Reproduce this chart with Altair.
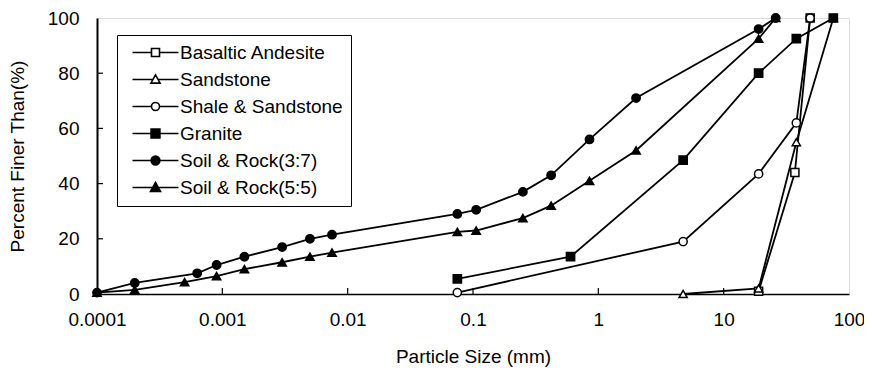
import altair as alt
import pandas as pd

# ---- data ----
series_names = ["Basaltic Andesite", "Sandstone", "Shale & Sandstone",
                "Granite", "Soil & Rock(3:7)", "Soil & Rock(5:5)"]

basaltic_x = [19, 37, 49]
basaltic_y = [1, 44, 100]

sandstone_x = [4.75, 19, 38, 75]
sandstone_y = [0, 2, 55, 100]

shale_x = [0.075, 4.75, 19, 38, 49]
shale_y = [0.5, 19, 43.5, 62, 100]

granite_x = [0.075, 0.6, 4.75, 19, 38, 75]
granite_y = [5.5, 13.5, 48.5, 80, 92.5, 100]

soil37_x = [0.0001, 0.0002, 0.00063, 0.0009, 0.0015, 0.003, 0.005, 0.0075,
            0.075, 0.106, 0.25, 0.42, 0.85, 2.0, 19, 26]
soil37_y = [0.5, 4, 7.5, 10.5, 13.5, 17, 20, 21.5,
            29, 30.5, 37, 43, 56, 71, 96, 100]

soil55_x = [0.0001, 0.0002, 0.0005, 0.0009, 0.0015, 0.003, 0.005, 0.0075,
            0.075, 0.106, 0.25, 0.42, 0.85, 2.0, 19, 26]
soil55_y = [0.5, 1.5, 4.3, 6.5, 9, 11.5, 13.5, 15,
            22.5, 23, 27.5, 32, 41, 52, 92.5, 100]

x_tick_values = [0.0001, 0.001, 0.01, 0.1, 1, 10, 100]
y_tick_values = [0, 20, 40, 60, 80, 100]
inner_x_ticks = [0.001, 0.01, 0.1, 1, 10]
inner_y_ticks = [20, 40, 60, 80]

# ---- build table ----
xs = [basaltic_x, sandstone_x, shale_x, granite_x, soil37_x, soil55_x]
ys = [basaltic_y, sandstone_y, shale_y, granite_y, soil37_y, soil55_y]
rows = []
for name, sx, sy in zip(series_names, xs, ys):
    for a, b in zip(sx, sy):
        rows.append({"series": name, "size": a, "pct": b})
df = pd.DataFrame(rows)

W, H = 752, 276
FONT = "Liberation Sans"

plot_shapes = ["square", "triangle-up", "circle", "square", "circle", "triangle-up"]
plot_fills = ["white", "white", "white", "black", "black", "black"]
plot_strokes = ["black"] * 6
plot_sizes = [65, 70, 65, 100, 95, 105]

legend_paths = [
    "M-5.75,0H-1M1,0H5.75M-1,-1H1V1H-1Z",
    "M-5.75,0H-0.6M0.6,0H5.75M0,-1.15L1.15,0.9H-1.15Z",
    "M-5.75,0H-1M1,0H5.75M1,0A1,1,0,1,1,-1,0A1,1,0,1,1,1,0Z",
    "M-5.75,0H-1.1M1.1,0H5.75M-1.1,-1.1H1.1V1.1H-1.1Z",
    "M-5.75,0H-1.1M1.1,0H5.75M1.1,0A1.1,1.1,0,1,1,-1.1,0A1.1,1.1,0,1,1,1.1,0Z",
    "M-5.75,0H-0.6M0.6,0H5.75M0,-1.25L1.25,1H-1.25Z",
]

xscale = alt.Scale(type="log", domain=[0.0001, 100], nice=False)
yscale = alt.Scale(domain=[0, 100], nice=False)

xenc = alt.X("size:Q", scale=xscale,
             axis=alt.Axis(values=x_tick_values, format="~g", title="Particle Size (mm)",
                           tickSize=0, labelPadding=16, titlePadding=18, grid=False,
                           domainColor="black", domainWidth=1.5,
                           labelFont=FONT, labelFontSize=19, labelColor="black",
                           titleFont=FONT, titleFontSize=19, titleFontWeight="normal",
                           titleColor="black", labelFlush=False))
yenc = alt.Y("pct:Q", scale=yscale,
             axis=alt.Axis(values=y_tick_values, title="Percent Finer Than(%)",
                           tickSize=0, labelPadding=18, titlePadding=20, grid=False,
                           domainColor="black", domainWidth=2,
                           labelFont=FONT, labelFontSize=19, labelColor="black",
                           titleFont=FONT, titleFontSize=19, titleFontWeight="normal",
                           titleColor="black", labelFlush=False))

lines = alt.Chart(df).mark_line(color="black", strokeWidth=1.8).encode(
    x=xenc, y=yenc, detail="series:N")

points = alt.Chart(df).mark_point(filled=True, stroke="black", strokeWidth=1.5, opacity=1).encode(
    x="size:Q", y="pct:Q",
    shape=alt.Shape("series:N", scale=alt.Scale(domain=series_names, range=plot_shapes), legend=None),
    fill=alt.Fill("series:N", scale=alt.Scale(domain=series_names, range=plot_fills), legend=None),
    size=alt.Size("series:N", scale=alt.Scale(domain=series_names, range=plot_sizes), legend=None),
)

leg = dict(title=None, orient="none", legendX=20, legendY=17,
           labelFont=FONT, labelFontSize=19, labelColor="black", labelLimit=400,
           symbolSize=64, symbolStrokeWidth=1.6, symbolStrokeColor="black",
           symbolOpacity=1,
           symbolOffset=21, labelOffset=15, rowPadding=7, padding=8,
           strokeColor="black", fillColor="white")

legend_layer = alt.Chart(df).transform_filter("false").mark_point(
    filled=True, stroke="black", strokeWidth=1.6, opacity=1).encode(
    x="size:Q", y="pct:Q",
    shape=alt.Shape("series:N", scale=alt.Scale(domain=series_names, range=legend_paths),
                    legend=alt.Legend(**leg)),
    fill=alt.Fill("series:N", scale=alt.Scale(domain=series_names, range=plot_fills),
                  legend=alt.Legend(**leg)),
    stroke=alt.Stroke("series:N", scale=alt.Scale(domain=series_names, range=plot_strokes),
                      legend=alt.Legend(**leg)),
)

xt = alt.Chart(pd.DataFrame({"size": inner_x_ticks})).mark_rule(color="black", strokeWidth=1.2).encode(
    x="size:Q", y=alt.value(H), y2=alt.value(H - 6))
yt = alt.Chart(pd.DataFrame({"pct": inner_y_ticks})).mark_rule(color="black", strokeWidth=1.2).encode(
    y="pct:Q", x=alt.value(0), x2=alt.value(6))

chart = alt.layer(xt, yt, lines, points, legend_layer).resolve_scale(
    shape="independent", fill="independent", size="independent", stroke="independent"
).properties(
    width=W, height=H,
    autosize=alt.AutoSizeParams(type="none"),
    padding={"left": 89, "top": 10, "right": 15, "bottom": 80},
).configure_view(stroke="black", strokeWidth=1.5).configure(background="white")

chart.save("out.html", embed_options={"renderer": "svg", "actions": False})
